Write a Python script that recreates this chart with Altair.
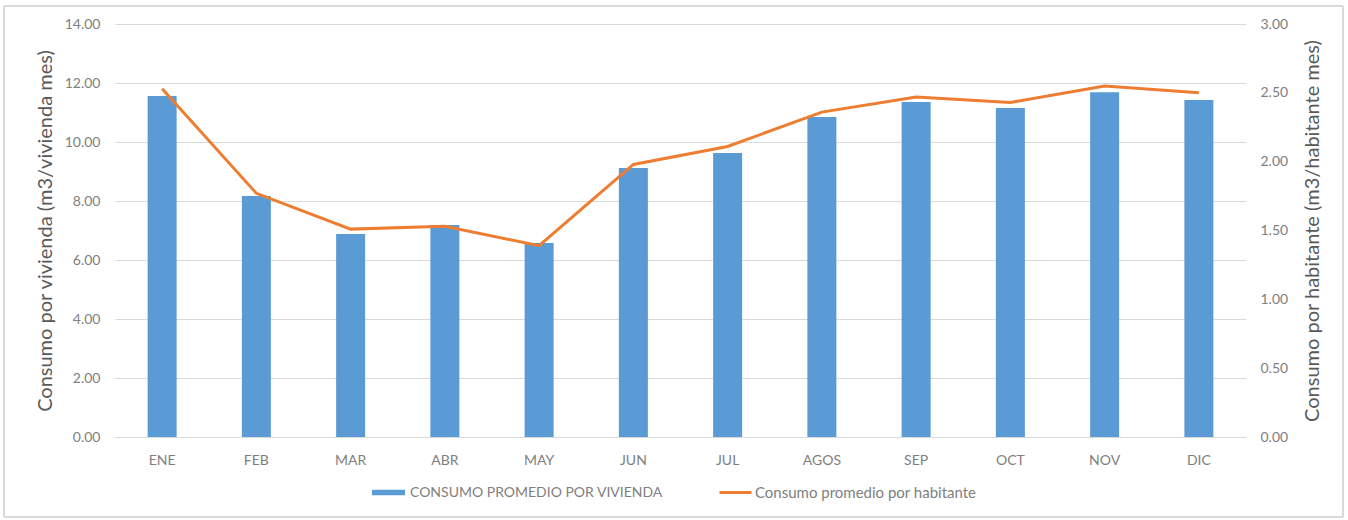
import altair as alt
import pandas as pd

meses = ["ENE", "FEB", "MAR", "ABR", "MAY", "JUN", "JUL", "AGOS", "SEP", "OCT", "NOV", "DIC"]
consumo_vivienda = [11.56, 8.17, 6.88, 7.19, 6.58, 9.12, 9.63, 10.85, 11.36, 11.15, 11.69, 11.42]
consumo_habitante = [2.53, 1.77, 1.51, 1.53, 1.39, 1.98, 2.11, 2.36, 2.47, 2.43, 2.55, 2.50]

serie_bar = "CONSUMO PROMEDIO POR VIVIENDA"
serie_line = "Consumo promedio por habitante"

df = pd.DataFrame({
    "mes": meses,
    "viv": consumo_vivienda,
    "hab": consumo_habitante,
    "s1": [serie_bar] * len(meses),
    "s2": [serie_line] * len(meses),
})

FONT = "Lato"
W, H = 1131, 413
PAD_L, PAD_T = 115, 24
LBL = "#808080"

x_enc = alt.X("mes:N", sort=meses, title=None,
              scale=alt.Scale(paddingInner=0, paddingOuter=0),
              axis=alt.Axis(labelAngle=0, ticks=False, domain=False, grid=False,
                            labelPadding=16, labelFontSize=14, labelColor=LBL,
                            labelFont=FONT))

bars = alt.Chart(df).mark_bar(size=29).encode(
    x=x_enc,
    y=alt.Y("viv:Q", scale=alt.Scale(domain=[0, 14]),
            axis=alt.Axis(title="Consumo por vivienda (m3/vivienda mes)", values=[0, 2, 4, 6, 8, 10, 12, 14],
                          format=".2f", ticks=False, domain=False, grid=True, gridColor="#d9d9d9",
                          labelPadding=15, labelFontSize=14, labelColor=LBL, labelFont=FONT,
                          titleFontSize=20, titleFontWeight="normal", titleColor="#595959",
                          titleFont=FONT, titleX=-70, titleY=H / 2, titleAngle=270,
                          titleBaseline="middle", titleAlign="center")),
    color=alt.Color("s1:N", scale=alt.Scale(range=["#5b9bd5"]),
                    legend=alt.Legend(title=None, orient="none", legendX=257, legendY=452,
                                      symbolType="M-1,-0.16H1V0.16H-1Z", symbolSize=1089,
                                      symbolStrokeWidth=0, labelFontSize=14, labelColor=LBL,
                                      labelFont=FONT, labelOffset=5, labelLimit=0)),
)

line = alt.Chart(df).mark_line(strokeWidth=3).encode(
    x=alt.X("mes:N", sort=meses),
    y=alt.Y("hab:Q", scale=alt.Scale(domain=[0, 3]),
            axis=alt.Axis(title="Consumo por habitante (m3/habitante mes)", orient="right",
                          values=[0, 0.5, 1, 1.5, 2, 2.5, 3], format=".2f", ticks=False,
                          domain=False, grid=False, labelPadding=14, labelFontSize=14,
                          labelColor=LBL, labelFont=FONT, titleFontSize=20,
                          titleFontWeight="normal", titleColor="#595959", titleFont=FONT,
                          titleX=66, titleY=H / 2, titleAngle=270, titleBaseline="middle",
                          titleAlign="center")),
    stroke=alt.Stroke("s2:N", scale=alt.Scale(range=["#ed7d31"]),
                      legend=alt.Legend(title=None, orient="none", legendX=603, legendY=451,
                                        symbolType="stroke", symbolSize=1024,
                                        symbolStrokeWidth=3, labelFontSize=15,
                                        labelColor=LBL, labelFont=FONT, labelOffset=2,
                                        labelLimit=0)),
)

frame = alt.Chart(df).mark_rect(fill=None, stroke="#d9d9d9", strokeWidth=1).encode(
    x=alt.value(-111), x2=alt.value(1228), y=alt.value(-18), y2=alt.value(493)
)

chart = alt.layer(bars, line, frame).resolve_scale(y="independent").properties(
    width=W, height=H,
    autosize=alt.AutoSizeParams(type="none"),
    padding={"left": PAD_L, "top": PAD_T, "right": 1348 - PAD_L - W, "bottom": 520 - PAD_T - H},
    background="white",
).configure_view(stroke=None)

chart.save("out.html", embed_options={"renderer": "svg", "actions": False})
